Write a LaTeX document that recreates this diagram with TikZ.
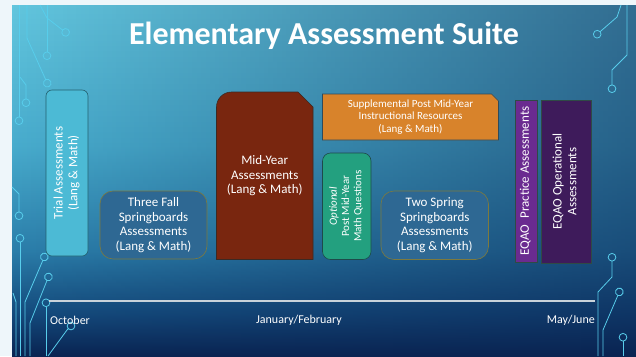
\documentclass[tikz,border=0pt]{standalone}
\usepackage{fontspec}
\setmainfont{Carlito}
\usepackage{graphicx}
\usetikzlibrary{positioning}
\usetikzlibrary{backgrounds}
\usetikzlibrary{arrows.meta}
\usetikzlibrary{fadings}

\definecolor{margincol}{HTML}{EEF6FA}
\definecolor{bgtop}{HTML}{62C6DE}
\definecolor{bgmid}{HTML}{48ACCD}
\definecolor{bglow}{HTML}{2B7EAA}
\definecolor{bgdeep}{HTML}{144A7C}
\definecolor{bgbot}{HTML}{0A2452}
\definecolor{wirecol}{HTML}{58CDEB}
\definecolor{trialfill}{HTML}{4CBAD5}
\definecolor{trialdraw}{HTML}{24616F}
\definecolor{sbfill}{HTML}{2E6893}
\definecolor{sbdraw}{HTML}{7D7A3E}
\definecolor{midfill}{HTML}{79260F}
\definecolor{middraw}{HTML}{3B2A24}
\definecolor{suppfill}{HTML}{D8832B}
\definecolor{suppdraw}{HTML}{2F4A5A}
\definecolor{optfill}{HTML}{23A07F}
\definecolor{optdraw}{HTML}{1E4A4A}
\definecolor{pracfill}{HTML}{6A2B90}
\definecolor{opfill}{HTML}{3E1B5B}
\definecolor{eqaodraw}{HTML}{2F4A45}
\definecolor{tlcol}{HTML}{C9D3DA}

\pgfdeclareverticalshading{slidebg}{100bp}{color(0bp)=(bgbot); color(25bp)=(bgbot);
  color(31bp)=(bgdeep); color(40bp)=(bglow); color(55bp)=(bgmid); color(75bp)=(bgtop); color(100bp)=(bgtop)}
\tikzfading[name=darkright, left color=transparent!100, right color=transparent!45]

\newcommand{\vlab}[1]{\rotatebox{90}{\begin{tabular}{@{}c@{}}#1\end{tabular}}}

\begin{document}
\begin{tikzpicture}[x=1pt, y=1pt,
box/.style={draw, line width=0.6pt, inner sep=0pt, outer sep=0pt, anchor=north west, align=center, text=white, font=\fontsize{13}{14.7}\selectfont},
wire/.style={draw=wirecol, line width=0.8pt, -{Circle[open, length=8.5pt, width=8.5pt]}},
month/.style={text=white, inner sep=0pt, font=\fontsize{12}{14}\selectfont},]

\useasboundingbox (0,0) rectangle (636,-356);

\begin{scope}[on background layer]
\fill[margincol] (0,0) rectangle (636,-356);
\shade[shading=slidebg] (12,-5) rectangle (636,-356);
\fill[bgbot, path fading=darkright] (12,-5) rectangle (636,-356);
\end{scope}

% circuit lines, left side
\draw[wire] (40,-5) -- (47,-18) -- (69,-35);
\draw[wire] (47,-5) -- (47,-60);
\draw[wire] (27,-5) -- (27,-38) -- (49,-87);
\draw[wire] (20,-77) -- (26,-85) -- (26,-107);
\draw[wire] (19,-5) -- (19,-125);
\draw[wire] (12,-187) -- (19,-194) -- (19,-220);
\draw[wire] (20,-356) -- (20,-234);
\draw[wire] (25,-356) -- (25,-302) -- (46,-253);
\draw[wire] (30,-356) -- (30,-323) -- (50,-273);
\draw[wire] (46,-356) -- (46,-298.5);
\draw[wire] (48,-356) -- (67,-330) -- (74,-323);
\draw[wirecol, line width=0.8pt] (13,-293) -- (16,-302) -- (16,-356);
% circuit lines, right side
\draw[wire] (621,-5) -- (617,-17) -- (594,-37);
\draw[wire] (627,-5) -- (627,-55) -- (612,-70) -- (612,-93);
\draw[wire] (598,-356) -- (598,-292) -- (612,-277) -- (612,-253);
\draw[wire] (603,-356) -- (603,-330) -- (621,-288);
\draw[wire] (623,-356) -- (623,-333);

\node[text=white, anchor=base, font=\bfseries\fontsize{32}{38}\selectfont] (title) at (324,-44) {Elementary Assessment Suite};

\node[box, fill=trialfill, draw=trialdraw, rounded corners=6pt, minimum width=42pt, minimum height=166pt] (trial) at (46,-90)
  {\vlab{Trial Assessments\\(Lang \& Math)}};
\node[box, fill=sbfill, draw=sbdraw, rounded corners=13pt, minimum width=107pt, minimum height=68pt] (fallsb) at (100,-191)
  {Three Fall\\Springboards\\Assessments\\(Lang \& Math)};
\node[box, draw=none, minimum width=96.5pt, minimum height=167.5pt] (midyear) at (216.5,-92)
  {Mid-Year\\Assessments\\(Lang \& Math)};
\node[box, draw=none, minimum width=176pt, minimum height=46pt, font=\fontsize{11}{12.5}\selectfont] (suppres) at (322.5,-94)
  {Supplemental Post Mid-Year\\Instructional Resources\\(Lang \& Math)};
\node[box, fill=optfill, draw=optdraw, rounded corners=8pt, minimum width=48.5pt, minimum height=106.5pt, font=\fontsize{11}{12.2}\selectfont] (optmath) at (322.5,-153)
  {\vlab{\itshape Optional\\Post Mid-Year\\Math Questions}};
\node[box, fill=sbfill, draw=sbdraw, rounded corners=13pt, minimum width=107.5pt, minimum height=68.5pt] (springsb) at (381,-191)
  {Two Spring\\Springboards\\Assessments\\(Lang \& Math)};
\node[box, fill=pracfill, draw=eqaodraw, minimum width=22pt, minimum height=162pt] (eqaoprac) at (515,-100)
  {\vlab{EQAO~ Practice Assessments}};
\node[box, fill=opfill, draw=eqaodraw, minimum width=50pt, minimum height=163pt] (eqaoop) [right=4pt of eqaoprac.north east, anchor=north west]
  {\vlab{EQAO Operational\\Assessments}};

\begin{scope}[on background layer]
\filldraw[fill=midfill, draw=middraw, line width=0.6pt] (midyear.south west) -- ([yshift=-15pt]midyear.north west)
  arc[start angle=180, end angle=90, radius=15pt] -- ([xshift=-15pt]midyear.north east)
  -- ([yshift=-15pt]midyear.north east) -- (midyear.south east) -- cycle;
\filldraw[fill=suppfill, draw=suppdraw, line width=0.6pt] (suppres.south west) -- (suppres.north west)
  -- ([xshift=-7pt]suppres.north east) -- ([yshift=-7pt]suppres.north east) -- (suppres.south east) -- cycle;
\end{scope}

% timeline
\coordinate (tlstart) at (48.5,-301);
\coordinate (tlend) at (595,-301);
\draw[tlcol, line width=1.4pt] (tlstart) -- (tlend);
\node[month, anchor=west] (oct) at (50,-320) {October};
\node[month] (janfeb) at (299,-320) {January/February};
\node[month, anchor=east] (mayjune) at (595,-320) {May/June};

\end{tikzpicture}
\end{document}
